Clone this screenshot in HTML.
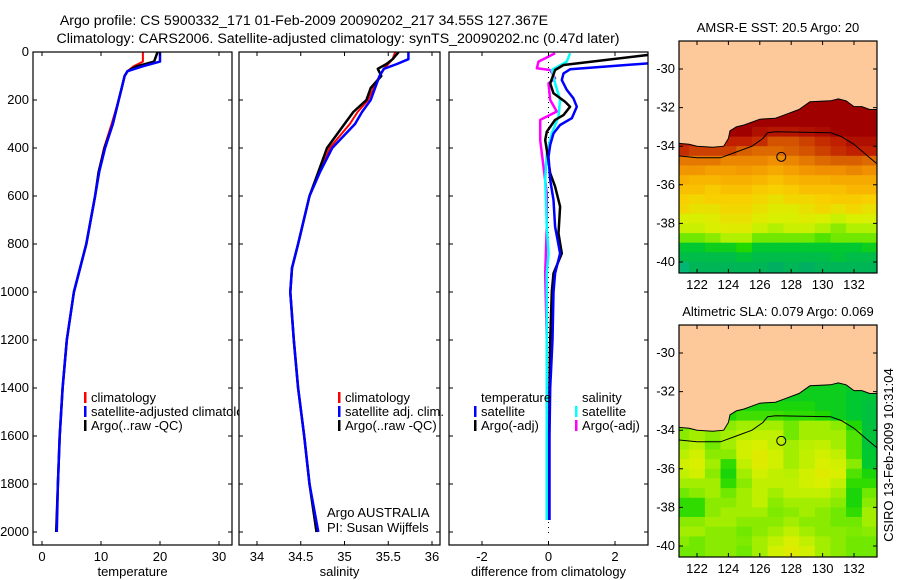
<!DOCTYPE html>
<html><head><meta charset="utf-8"><style>
html,body{margin:0;padding:0;background:#fff;}
svg{display:block;font-family:"Liberation Sans",sans-serif;}
text{font-size:13px;fill:#000;}
</style></head><body>
<svg id="fig" width="900" height="580" viewBox="0 0 900 580" xmlns="http://www.w3.org/2000/svg">
<text x="304" y="25" text-anchor="middle" style="font-size:14.2px">Argo profile: CS 5900332_171 01-Feb-2009 20090202_217 34.55S 127.367E</text>
<text x="338" y="43" text-anchor="middle" style="font-size:14.2px">Climatology: CARS2006. Satellite-adjusted climatology: synTS_20090202.nc (0.47d later)</text>
<g id="layer"></g>
</svg>
<script>
// ---------- profile data ----------
const depthT = [0,40,60,80,100,150,200,300,400,500,600,800,1000,1200,1400,1600,1800,2000];
const tempClim = [17.1,17.1,15.5,14.5,14,13.5,13,11.8,10.5,9.6,9,7.5,5.4,4.2,3.5,3,2.7,2.4];
const tempSat  = [20,20,17,14.5,14,13.5,13,12,10.7,9.7,9,7.5,5.4,4.2,3.5,3,2.7,2.5];
const tempArgo = [19.6,19,16,14.5,14,13.5,13,12,10.6,9.6,9,7.5,5.4,4.2,3.5,3,2.7,2.4];

const depthS = [0,30,50,70,100,150,200,250,300,400,500,600,800,900,1000,1200,1400,1600,1800,2000];
const salClim = [35.58,35.55,35.5,35.45,35.4,35.33,35.27,35.15,35.06,34.83,34.72,34.6,34.47,34.4,34.38,34.42,34.47,34.54,34.6,34.68];
const salSat  = [35.73,35.73,35.6,35.45,35.4,35.35,35.3,35.2,35.12,34.86,34.72,34.6,34.47,34.4,34.38,34.42,34.47,34.54,34.6,34.7];
const salArgo = [35.62,35.55,35.48,35.38,35.42,35.3,35.25,35.1,35.0,34.8,34.7,34.6,34.47,34.4,34.38,34.42,34.47,34.54,34.6,34.68];

const depthDB = [0,47,72,89,117,158,193,228,276,304,339,387,436,533,617,728,839,922,1000,1200,1400,1600,1800,1950];
const diffTSat = [3.6,3.0,0.65,0.45,0.4,0.55,0.75,0.85,0.7,0.35,0.15,0.05,0,0.05,0.15,0.2,0.35,0.2,0.15,0.12,0.05,0.03,0.03,0.03];
const depthDK = [0,12,54,75,131,172,207,228,263,283,332,367,408,505,561,644,756,839,922,1000,1200,1400,1600,1800,1950];
const diffTArgo = [3.6,3.0,0.45,0.2,0.05,0.15,0.5,0.65,0.45,0.2,-0.05,-0.1,-0.05,0.05,0.2,0.35,0.3,0.4,0.15,0.1,0.05,0.03,0.02,0.02,0.02];
const depthDC = [5,40,75,131,200,269,339,422,533,728,839,922,1200,1600,1950];
const diffSSat = [0.65,0.55,0.1,0.2,0.35,0.3,0.1,-0.05,-0.1,-0.05,0,-0.05,-0.05,-0.05,-0.05];
const depthDM = [5,40,68,75,110,131,200,248,283,367,478,589,728,922,1200,1600,1950];
const diffSArgo = [0.2,-0.3,-0.35,0.05,0.2,0,0.05,0.25,-0.25,-0.25,-0.15,-0.05,-0.05,-0.1,-0.05,-0.05,-0.05];

const depthTicks = [0,200,400,600,800,1000,1200,1400,1600,1800,2000];
const tempTicks = [0,10,20,30];
const salTicks = [34,34.5,35,35.5,36];
const salTickLabels = ["34","34.5","35","35.5","36"];
const diffTicks = [-2,0,2];

// ---------- map data ----------
const mapLons = [121,122,123,124,125,126,127,128,129,130,131,132,133];
const mapLats = [-31.5,-32,-32.5,-33,-33.5,-34,-34.5,-35,-35.5,-36,-36.5,-37,-37.5,-38,-38.5,-39,-39.5,-40,-40.5];
const sstGrid = [
[1,1,1,1,1,1,1,1,1,1,1,1,1],
[1,1,1,1,1,1,1,1,1,1,1,1,1],
[1,1,1,1,1,1,1,1,1,1,1,1,1],
[1,1,1,1,1,0.95,0.93,0.93,0.95,0.97,1,1,1],
[0.9,0.9,0.9,0.9,0.9,0.88,0.82,0.82,0.85,0.88,0.9,0.95,0.95],
[0.88,0.85,0.85,0.85,0.8,0.78,0.78,0.8,0.82,0.85,0.88,0.9,0.9],
[0.75,0.75,0.75,0.72,0.72,0.72,0.7,0.72,0.75,0.78,0.8,0.8,0.78],
[0.68,0.68,0.65,0.65,0.67,0.65,0.62,0.65,0.68,0.7,0.7,0.72,0.7],
[0.6,0.58,0.58,0.6,0.6,0.58,0.55,0.58,0.6,0.6,0.62,0.62,0.62],
[0.55,0.55,0.52,0.55,0.55,0.52,0.5,0.52,0.55,0.55,0.55,0.58,0.58],
[0.5,0.48,0.5,0.5,0.5,0.48,0.45,0.48,0.48,0.5,0.52,0.52,0.5],
[0.48,0.45,0.45,0.48,0.48,0.45,0.42,0.42,0.45,0.48,0.45,0.48,0.45],
[0.4,0.4,0.42,0.45,0.45,0.42,0.4,0.4,0.42,0.4,0.38,0.4,0.4],
[0.38,0.38,0.4,0.42,0.42,0.38,0.35,0.38,0.38,0.35,0.32,0.35,0.35],
[0.3,0.3,0.32,0.35,0.35,0.3,0.3,0.3,0.3,0.28,0.3,0.3,0.3],
[0.2,0.2,0.22,0.22,0.25,0.2,0.2,0.2,0.2,0.2,0.2,0.2,0.22],
[0.15,0.15,0.15,0.15,0.18,0.15,0.15,0.15,0.15,0.15,0.18,0.15,0.15],
[0.08,0.12,0.12,0.12,0.12,0.12,0.1,0.12,0.1,0.12,0.12,0.12,0.12],
[0.05,0.1,0.1,0.12,0.12,0.1,0.1,0.1,0.1,0.12,0.12,0.12,0.12]];
const slaGrid = [
[0.22,0.22,0.22,0.22,0.22,0.22,0.22,0.22,0.22,0.22,0.22,0.21,0.2],
[0.22,0.22,0.22,0.22,0.22,0.22,0.22,0.22,0.22,0.22,0.22,0.2,0.18],
[0.22,0.22,0.22,0.22,0.24,0.24,0.24,0.24,0.24,0.22,0.22,0.2,0.17],
[0.25,0.25,0.25,0.25,0.27,0.27,0.27,0.26,0.26,0.25,0.22,0.2,0.17],
[0.3,0.3,0.3,0.32,0.34,0.34,0.34,0.3,0.34,0.34,0.32,0.25,0.17],
[0.32,0.34,0.32,0.34,0.36,0.37,0.37,0.3,0.34,0.34,0.34,0.28,0.18],
[0.34,0.36,0.3,0.34,0.39,0.4,0.37,0.34,0.36,0.37,0.34,0.28,0.18],
[0.36,0.39,0.32,0.32,0.39,0.42,0.39,0.34,0.37,0.39,0.37,0.28,0.2],
[0.39,0.4,0.34,0.26,0.37,0.42,0.39,0.34,0.37,0.4,0.39,0.32,0.2],
[0.37,0.39,0.32,0.24,0.34,0.39,0.37,0.36,0.39,0.42,0.4,0.28,0.24],
[0.34,0.34,0.34,0.26,0.32,0.37,0.37,0.37,0.39,0.4,0.37,0.26,0.26],
[0.3,0.32,0.34,0.3,0.34,0.37,0.34,0.37,0.37,0.37,0.34,0.24,0.3],
[0.26,0.26,0.32,0.32,0.34,0.37,0.32,0.34,0.34,0.34,0.32,0.24,0.32],
[0.26,0.26,0.32,0.34,0.34,0.34,0.31,0.32,0.34,0.32,0.3,0.26,0.34],
[0.32,0.32,0.34,0.34,0.32,0.32,0.32,0.34,0.32,0.32,0.3,0.3,0.34],
[0.34,0.34,0.32,0.32,0.3,0.32,0.34,0.37,0.34,0.32,0.32,0.31,0.32],
[0.32,0.3,0.32,0.32,0.31,0.34,0.37,0.4,0.37,0.34,0.32,0.3,0.3],
[0.3,0.3,0.32,0.32,0.3,0.34,0.39,0.42,0.39,0.34,0.32,0.3,0.3],
[0.3,0.3,0.32,0.32,0.3,0.34,0.39,0.42,0.39,0.34,0.32,0.3,0.3]];
const coastLon = [120.8,121.5,122,123,123.7,124.0,124.1,124.5,125,126,127,127.5,128.5,129.2,130.5,131,131.5,132,132.5,133,133.5];
const coastLat = [-33.85,-33.9,-34.0,-34.05,-34.0,-33.6,-33.2,-33.0,-32.9,-32.6,-32.55,-32.4,-32.1,-31.7,-31.65,-31.55,-31.65,-31.95,-31.95,-32.1,-32.1];
const isoLon = [120.8,122,123.5,124.5,125.5,126.2,126.5,127,130.5,131.2,132,133,133.45];
const isoLat = [-34.5,-34.6,-34.6,-34.3,-34.0,-33.6,-33.3,-33.25,-33.3,-33.5,-33.9,-34.6,-34.9];
const floatLon = 127.367, floatLat = -34.55;
const lonTicks = [122,124,126,128,130,132];
const latTicks = [-30,-32,-34,-36,-38,-40];

// ---------- helpers ----------
const NS = "http://www.w3.org/2000/svg";
const layer = document.getElementById('layer');
function mk(tag, attrs, parent){
  const e = document.createElementNS(NS, tag);
  for (const k in attrs) e.setAttribute(k, attrs[k]);
  (parent||layer).appendChild(e);
  return e;
}
function lin(d0,d1,r0,r1){ return v => r0 + (v-d0)*(r1-r0)/(d1-d0); }
const yDepth = lin(0,2000,52,532);
const TOP=52, BOT=545;

function panel(name, x0, x1, xs, ticks, labels, xlabel, showY){
  const g = mk('g', {});
  
  
  const bg = mk('rect', {x:x0, y:TOP, width:x1-x0, height:BOT-TOP, fill:'#fff'}, g);
  
  
  const cid = name+'-clip';
  const cp = mk('clipPath', {id:cid}, g);
  mk('rect', {x:x0, y:TOP, width:x1-x0, height:BOT-TOP}, cp);
  const plot = mk('g', {'clip-path':'url(#'+cid+')'}, g);
  ticks.forEach((t,i)=>{
    const x = xs(t);
    const tk = mk('path', {d:`M${x},${TOP}v4M${x},${BOT}v-4`, stroke:'#000', 'stroke-width':1}, g);
    
    
    const tl = mk('text', {x:x, y:BOT+16, 'text-anchor':'middle'}, g);
    
    
    tl.textContent = labels[i];
  });
  depthTicks.forEach(d=>{
    const y = yDepth(d);
    const tk = mk('path', {d:`M${x0},${y}h4M${x1},${y}h-4`, stroke:'#000', 'stroke-width':1}, g);
    
    
    if (showY){
      const tl = mk('text', {x:x0-4, y:y+4, 'text-anchor':'end'}, g);
      
      
      tl.textContent = d;
    }
  });
  const xl = mk('text', {x:(x0+x1)/2, y:BOT+31, 'text-anchor':'middle'}, g);
  
  
  xl.textContent = xlabel;
  return {g, plot, x0, x1};
}
function series(p, depths, vals, xs, color, w, name){
  const pts = depths.map((d,i)=> xs(vals[i]).toFixed(1)+','+yDepth(d).toFixed(1)).join(' ');
  const l = mk('polyline', {points:pts, fill:'none', stroke:color, 'stroke-width':w, 'stroke-linejoin':'round'}, p.plot);
  
  
}
function frame(p){
  const f = mk('rect', {x:p.x0, y:TOP, width:p.x1-p.x0, height:BOT-TOP, fill:'none', stroke:'#000', 'stroke-width':1.2}, p.g);
  
  
}
function legendEntry(g, x, y, color, label){
  if (color){
    const m = mk('rect', {x:x-7, y:y-10, width:2.5, height:11, fill:color}, g);
    
    
  }
  const t = mk('text', {x:x, y:y}, g);
  
  
  t.textContent = label;
}

// ---------- temperature panel ----------
const xT = lin(0,30,42,219);
const p1 = panel('temperature-panel', 33, 232, xT, tempTicks, tempTicks.map(String), 'temperature', true);
series(p1, depthT, tempClim, xT, '#ff0000', 2, 'temp-climatology-line');
series(p1, depthT, tempArgo, xT, '#000000', 2.5, 'temp-argo-line');
series(p1, depthT, tempSat, xT, '#0000ff', 2.5, 'temp-satellite-line');
frame(p1);
legendEntry(p1.g, 91, 402, '#ff0000', 'climatology');
legendEntry(p1.g, 91, 416, '#0000ff', 'satellite-adjusted climatology');
legendEntry(p1.g, 91, 430, '#000000', 'Argo(..raw -QC)');

// ---------- salinity panel ----------
const xS = lin(34,36,257,432);
const p2 = panel('salinity-panel', 239, 440, xS, salTicks, salTickLabels, 'salinity', false);
series(p2, depthS, salClim, xS, '#ff0000', 2, 'sal-climatology-line');
series(p2, depthS, salArgo, xS, '#000000', 2.5, 'sal-argo-line');
series(p2, depthS, salSat, xS, '#0000ff', 2.5, 'sal-satellite-line');
frame(p2);
legendEntry(p2.g, 345, 402, '#ff0000', 'climatology');
legendEntry(p2.g, 345, 416, '#0000ff', 'satellite adj. clim.');
legendEntry(p2.g, 345, 430, '#000000', 'Argo(..raw -QC)');
legendEntry(p2.g, 327, 517, null, 'Argo AUSTRALIA');
legendEntry(p2.g, 327, 532, null, 'PI: Susan Wijffels');

// ---------- difference panel ----------
const xD = lin(-2,2,482,615);
const p3 = panel('difference-panel', 449, 648, xD, diffTicks, diffTicks.map(String), 'difference from climatology', false);
const zl = mk('line', {x1:xD(0), x2:xD(0), y1:TOP, y2:BOT-10, stroke:'#000', 'stroke-width':1, 'stroke-dasharray':'1,4'}, p3.plot);


series(p3, depthDM, diffSArgo, xD, '#ff00ff', 2.5, 'diff-sal-argo-line');
series(p3, depthDC, diffSSat, xD, '#00ffff', 2.5, 'diff-sal-satellite-line');
series(p3, depthDK, diffTArgo, xD, '#000000', 2.5, 'diff-temp-argo-line');
series(p3, depthDB, diffTSat, xD, '#0000ff', 2.5, 'diff-temp-satellite-line');
frame(p3);
legendEntry(p3.g, 481, 402, null, 'temperature');
legendEntry(p3.g, 481, 416, '#0000ff', 'satellite');
legendEntry(p3.g, 481, 430, '#000000', 'Argo(-adj)');
legendEntry(p3.g, 582, 402, null, 'salinity');
legendEntry(p3.g, 582, 416, '#00ffff', 'satellite');
legendEntry(p3.g, 582, 430, '#ff00ff', 'Argo(-adj)');

// ---------- maps ----------
const cmapT = [0,0.1,0.2,0.25,0.3,0.35,0.4,0.5,0.6,0.7,0.8,0.9,1.0];
const cmapC = ['#10d0c0','#00b060','#00c830','#20d800','#70e800','#b0f000','#d8f000','#f8d000','#f8b000','#f09000','#d86000','#c02000','#a00000'];
function hex(c){ return [1,3,5].map(i=>parseInt(c.substr(i,2),16)); }
function cmap(v){
  for (let i=1;i<cmapT.length;i++){
    if (v<=cmapT[i]){
      const f=(v-cmapT[i-1])/(cmapT[i]-cmapT[i-1]);
      const a=hex(cmapC[i-1]), b=hex(cmapC[i]);
      return 'rgb('+a.map((x,k)=>Math.round(x+(b[k]-x)*f)).join(',')+')';
    }
  }
  return cmapC[cmapC.length-1];
}
function drawMap(name, top, title, grid){
  const L=679, R=877, B=top+232;
  const xL = lin(122,132,697,854);
  const yL = lin(-30,-40,top+28,top+221);
  const g = mk('g', {});
  
  
  const cid = name+'-clip';
  const cp = mk('clipPath', {id:cid}, g);
  mk('rect', {x:L, y:top, width:R-L, height:B-top}, cp);
  const pl = mk('g', {'clip-path':'url(#'+cid+')'}, g);
  mk('rect', {x:L, y:top, width:R-L, height:B-top, fill:'#fdc99b'}, pl);
  grid.forEach((row,ri)=>{
    row.forEach((v,ci)=>{
      const x = xL(mapLons[ci]-0.5), y = yL(mapLats[ri]);
      const c = mk('rect', {x:x.toFixed(1), y:y.toFixed(1), width:(xL(mapLons[ci]+0.5)-x+0.5).toFixed(1), height:(yL(mapLats[ri]-0.5)-y+0.5).toFixed(1), fill:cmap(v)}, pl);
      
      
    });
  });
  let d = coastLon.map((lo,i)=>(i?'L':'M')+xL(lo).toFixed(1)+','+yL(coastLat[i]).toFixed(1)).join('');
  d += `L${R+2},${yL(-32.1)}L${R+2},${top-2}L${L-2},${top-2}Z`;
  const land = mk('path', {d:d, fill:'#fdc99b', stroke:'#000', 'stroke-width':1}, pl);
  
  
  const iso = mk('polyline', {points:isoLon.map((lo,i)=>xL(lo).toFixed(1)+','+yL(isoLat[i]).toFixed(1)).join(' '), fill:'none', stroke:'#000', 'stroke-width':1}, pl);
  
  
  const fl = mk('circle', {cx:xL(floatLon), cy:yL(floatLat), r:4.5, fill:'none', stroke:'#000', 'stroke-width':1}, pl);
  
  
  const fr = mk('rect', {x:L, y:top, width:R-L, height:B-top, fill:'none', stroke:'#000', 'stroke-width':1.2}, g);
  
  
  lonTicks.forEach(lo=>{
    const x=xL(lo);
    mk('path', {d:`M${x},${top}v4M${x},${B}v-4`, stroke:'#000'}, g);
    const t = mk('text', {x:x, y:B+16, 'text-anchor':'middle'}, g);
    
    
    t.textContent = lo;
  });
  latTicks.forEach(la=>{
    const y=yL(la);
    mk('path', {d:`M${L},${y}h4M${R},${y}h-4`, stroke:'#000'}, g);
    const t = mk('text', {x:L-4, y:y+4, 'text-anchor':'end'}, g);
    
    
    t.textContent = la;
  });
  const tt = mk('text', {x:(L+R)/2, y:top-9, 'text-anchor':'middle'}, g);
  
  
  tt.textContent = title;
}
drawMap('sst-map', 41, 'AMSR-E SST: 20.5 Argo: 20', sstGrid);
drawMap('sla-map', 325, 'Altimetric SLA: 0.079 Argo: 0.069', slaGrid);

const stamp = mk('text', {x:0, y:0, 'text-anchor':'middle', transform:'translate(893,455) rotate(-90)'});


stamp.textContent = 'CSIRO 13-Feb-2009 10:31:04';
</script>
</body></html>
